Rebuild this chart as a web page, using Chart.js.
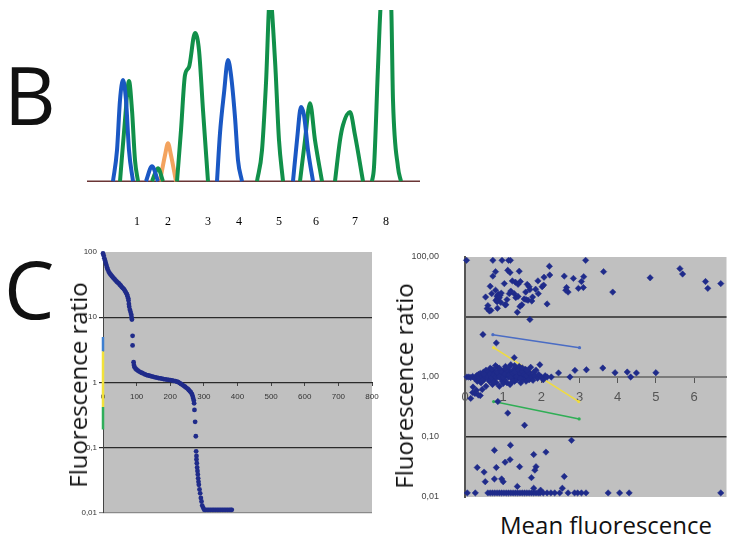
<!DOCTYPE html>
<html>
<head>
<meta charset="utf-8">
<script src="https://cdn.jsdelivr.net/npm/chart.js@4.4.1/dist/chart.umd.min.js"></script>
<style>
    html, body { margin: 0; padding: 0; background: #fff; overflow: hidden; }
    body { width: 731px; height: 535px; position: relative; font-family: "Open Sans", sans-serif; color: #111; }
    canvas { position: absolute; }
    .letter { position: absolute; font-size: 80px; line-height: 1; }
    #lanes { position: absolute; left: 0; top: 0; width: 731px; height: 240px; will-change: transform; background: transparent; }
    .lane { position: absolute; top: 215px; width: 20px; text-align: center; font-family: "Liberation Serif", serif; font-size: 12px; line-height: 1; color: #000; }
    .ytitle { position: absolute; font-size: 24px; line-height: 1; white-space: nowrap; transform: translate(-50%, -50%) rotate(-90deg); }
    .xtitle { position: absolute; font-size: 24px; line-height: 1; white-space: nowrap; }
</style>
</head>
<body>
<div class="letter" style="left:4px; top:54px;">B</div>
<div class="letter" style="left:4px; top:248px;">C</div>

<canvas id="graficoPicos" width="333" height="173" style="left:87px; top:10px;"></canvas>
<div id="lanes"></div>

<canvas id="graficoRanking" width="335" height="276" style="left:50px; top:244px;"></canvas>
<canvas id="graficoDispersao" width="331" height="254" style="left:400px; top:250px;"></canvas>

<div class="ytitle" style="left:78px; top:385px;">Fluorescence ratio</div>
<div class="ytitle" style="left:404px; top:386px;">Fluorescence ratio</div>
<div class="xtitle" style="left:500px; top:513px;">Mean fluorescence</div>

<script>
// ---------- B: electropherogram traces [scan, RFU], null = gap ----------
const laneLabels = ['1', '2', '3', '4', '5', '6', '7', '8'];
const laneScans = [150, 243, 363, 456, 576, 687, 804, 897];

const blueTrace = [
    [78, 0], [90, 181], [99, 474], [108, 591], [117, 474], [126, 181], [138, 0], [140, null],
    [177, 0], [195, 88], [213, 0], [215, null],
    [390, 0], [399, 281], [411, 515], [423, 708], [432, 620], [444, 374], [453, 123], [465, 0], [470, null],
    [618, 0], [630, 240], [642, 433], [651, 386], [663, 181], [678, 0]
];
const greenTrace = [
    [99, 0], [114, 357], [126, 585], [135, 415], [144, 123], [153, 0], [160, null],
    [195, 0], [213, 76], [228, 0], [240, null],
    [270, 0], [282, 298], [294, 620], [306, 667], [324, 866], [336, 766], [348, 415], [363, 0], [380, null],
    [510, 0], [525, 181], [537, 573], [549, 1080], [564, 708], [576, 240], [588, 0], [600, null],
    [639, 0], [654, 240], [669, 456], [684, 240], [705, 0], [720, null],
    [744, 0], [759, 240], [768, 328], [789, 404], [804, 269], [828, 0], [840, null],
    [855, 0], [861, 82], [873, 667], [882, 1060], [897, 1175], [912, 1060], [918, 474], [933, 82], [942, 0]
];
const orangeTrace = [
    [219, 0], [234, 152], [243, 222], [252, 152], [267, 0]
];
const baseline = [[0, 0], [999, 0]];

// ---------- C left: ranked ratios ----------
const rankIndex = [
    0, 2, 4, 6, 8, 10, 12, 14, 17, 20, 23, 26, 29, 32, 35, 38, 41, 44, 47, 50,
    53, 56, 59, 62, 65, 68, 71, 73, 75, 76, 77, 78, 80, 82, 84, 85, 86, 88, 88, 91,
    92, 94, 97, 100, 104, 108, 112, 116, 120, 125, 130, 135, 140, 145, 150, 155, 160, 165, 170, 175,
    180, 185, 190, 195, 200, 205, 210, 215, 220, 224, 228, 232, 236, 240, 244, 248, 252, 255, 258, 261,
    264, 266, 268, 270, 271, 272, 274, 276, 277, 278, 278, 279, 280, 281, 282, 283, 284, 285, 287, 289,
    291, 293, 295, 298, 301, 305, 310, 315, 320, 325, 330, 335, 340, 345, 350, 355, 360, 365, 370, 375,
    380, 383
];
const rankRatio = [
    95, 88, 80, 74, 68, 63, 58, 54, 50, 47, 45, 43, 41, 39.5, 38, 36.5, 35, 34, 33, 31.5,
    30.5, 29, 28, 27, 25.5, 24, 22.5, 21, 19.5, 18, 16, 14.5, 13, 12, 11, 10, 9.2, 5.2, 3.7, 2.05,
    1.85, 1.72, 1.63, 1.57, 1.52, 1.47, 1.43, 1.40, 1.37, 1.33, 1.30, 1.28, 1.26, 1.24, 1.22, 1.20, 1.19, 1.17, 1.16, 1.15,
    1.13, 1.12, 1.11, 1.10, 1.09, 1.08, 1.06, 1.05, 1.03, 1.01, 0.98, 0.95, 0.92, 0.89, 0.86, 0.83, 0.80, 0.77, 0.74, 0.71,
    0.67, 0.63, 0.58, 0.53, 0.48, 0.38, 0.25, 0.15, 0.088, 0.075, 0.066, 0.058, 0.05, 0.044, 0.039, 0.034, 0.030, 0.027, 0.023, 0.020,
    0.017, 0.015, 0.013, 0.012, 0.0112, 0.0112, 0.0112, 0.0112, 0.0112, 0.0112, 0.0112, 0.0112, 0.0112, 0.0112, 0.0112, 0.0112, 0.0112, 0.0112, 0.0112, 0.0112,
    0.0112, 0.0112
];
const rankTickValues = [0, 100, 200, 300, 400, 500, 600, 700, 800];
const rankRangeBlue = [5, 3];
const rankRangeYellow = [3, 0.42];
const rankRangeGreen = [0.42, 0.19];

// ---------- C right: ratio vs mean fluorescence ----------
const upperPoints = [
    [0.04, 88], [0.73, 88], [0.97, 88], [1.14, 88], [1.19, 88], [3.16, 88],
    [2.21, 70], [2.22, 50], [1.12, 60], [1.18, 55], [1.42, 58], [0.80, 57], [0.73, 48], [0.66, 32.5], [0.54, 21.5], [0.70, 24.5], [0.80, 28], [0.86, 23],
    [0.84, 22], [0.88, 24], [0.92, 23], [0.86, 20], [0.81, 19], [0.90, 21], [0.95, 25], [0.84, 18],
    [1.03, 36], [1.24, 40], [1.32, 38], [1.39, 35], [1.45, 39], [1.29, 24.5], [1.16, 24.5], [1.20, 27], [1.33, 21], [1.39, 22],
    [1.63, 35], [1.68, 32], [1.70, 28.6], [1.59, 26], [1.85, 29], [1.91, 40], [2.02, 32], [2.07, 46], [2.06, 34], [1.92, 24.5],
    [1.77, 21.5], [1.55, 20], [1.60, 19.5], [1.65, 19], [1.75, 18.5], [1.10, 19.5], [1.05, 16], [0.94, 17.5], [1.07, 16], [1.44, 15],
    [1.49, 16], [0.60, 15.5], [0.58, 13.8], [0.64, 12.6], [0.68, 12.9], [0.85, 14], [1.37, 12], [2.15, 16.5], [1.70, 9.1],
    [2.60, 48], [2.66, 31], [2.70, 26], [2.64, 28], [2.84, 44], [2.97, 30], [3.10, 31], [3.11, 47], [3.05, 39], [3.63, 57],
    [3.87, 26], [4.85, 45], [5.63, 64], [5.70, 52], [6.30, 39], [6.36, 30], [6.70, 36]
];
const middlePoints = [
    [0.47, 5.1], [0.82, 3.7], [1.29, 2.1], [2.45, 1.17], [2.88, 1.29], [3.18, 1.32], [3.61, 1.41], [3.93, 1.18], [4.25, 1.21],
    [4.34, 1.0], [4.49, 1.17], [5.0, 1.18], [2.26, 1.0], [2.75, 1.0], [0.15, 0.44], [0.26, 0.53], [0.40, 0.49], [0.21, 0.68],
    [0.86, 0.39], [1.12, 0.25], [1.56, 0.157],
    [0.05, 1.0], [0.10, 1.0], [0.15, 0.98], [0.20, 1.02], [0.25, 0.95], [0.30, 1.05], [0.32, 0.85], [0.35, 1.1], [0.38, 0.92],
    [0.40, 1.15], [0.42, 0.8], [0.45, 1.0], [0.48, 1.2], [0.50, 0.9], [0.52, 1.05], [0.55, 0.7], [0.55, 1.3], [0.58, 1.1],
    [0.60, 0.95], [0.62, 1.25], [0.64, 0.85], [0.66, 1.4], [0.68, 1.0], [0.70, 1.15], [0.72, 0.75], [0.74, 1.3], [0.76, 0.9],
    [0.78, 1.05], [0.80, 1.2], [0.82, 0.8], [0.84, 1.45], [0.86, 1.0], [0.88, 1.1], [0.90, 0.7], [0.92, 1.3], [0.94, 0.95],
    [0.96, 1.15], [0.98, 0.85], [1.00, 1.25], [1.02, 1.05], [1.04, 0.9], [1.06, 1.5], [1.08, 1.1], [1.10, 0.8], [1.12, 1.35],
    [1.14, 1.0], [1.16, 1.2], [1.18, 0.75], [1.20, 1.6], [1.22, 1.1], [1.24, 0.95], [1.26, 1.3], [1.28, 1.05], [1.30, 0.85],
    [1.32, 1.4], [1.34, 1.15], [1.36, 0.9], [1.38, 1.25], [1.40, 1.0], [1.42, 1.5], [1.44, 1.1], [1.46, 0.8], [1.48, 1.3],
    [1.50, 1.05], [1.52, 0.92], [1.54, 1.2], [1.56, 1.0], [1.58, 1.35], [1.60, 0.85], [1.62, 1.15], [1.64, 1.0], [1.66, 1.25],
    [1.68, 0.9], [1.70, 1.1], [1.72, 1.45], [1.75, 1.0], [1.78, 0.88], [1.80, 1.2], [1.83, 1.05], [1.86, 1.3], [1.90, 0.95],
    [1.93, 1.1], [1.96, 1.6], [2.00, 1.0], [2.05, 0.9], [2.10, 1.05], [2.15, 1.0],
    [0.60, 1.05], [0.65, 1.12], [0.70, 0.98], [0.75, 1.08], [0.80, 1.0], [0.85, 1.18], [0.90, 1.02], [0.95, 1.22], [1.00, 1.0],
    [1.05, 1.12], [1.10, 1.28], [1.15, 1.08], [1.20, 0.98], [1.25, 1.15], [1.30, 1.2], [1.35, 1.02], [1.40, 1.3], [1.45, 1.15],
    [1.50, 1.25], [1.55, 1.1], [1.60, 1.05], [1.65, 1.2], [0.70, 1.35], [0.90, 1.4], [1.05, 1.38], [1.30, 1.55], [0.80, 1.55],
    [1.15, 1.45], [1.50, 1.42], [1.62, 1.3], [0.50, 1.12], [0.45, 0.88], [0.75, 0.82], [1.00, 0.78], [1.25, 0.85], [1.45, 0.95],
    [0.30, 0.6], [0.20, 0.55], [0.35, 0.5], [0.45, 0.62]
];
const lowerPoints = [
    [2.79, 0.088], [0.77, 0.06], [1.19, 0.073], [2.12, 0.056], [1.80, 0.051], [0.32, 0.031], [0.50, 0.026], [0.82, 0.031],
    [1.05, 0.038], [1.18, 0.042], [1.43, 0.032], [1.86, 0.032], [1.83, 0.028], [0.53, 0.018], [0.77, 0.02], [0.96, 0.02],
    [1.00, 0.018], [1.74, 0.021], [2.60, 0.022], [1.37, 0.015], [1.80, 0.014], [2.55, 0.014], [1.98, 0.013]
];
const floorPoints = [
    [0.06, 0.0117], [0.27, 0.0117], [0.60, 0.0117], [0.66, 0.0117], [0.72, 0.0117], [0.78, 0.0117], [0.84, 0.0117], [0.90, 0.0117],
    [0.96, 0.0117], [1.02, 0.0117], [1.08, 0.0117], [1.14, 0.0117], [1.20, 0.0117], [1.26, 0.0117], [1.32, 0.0117], [1.38, 0.0117],
    [1.44, 0.0117], [1.50, 0.0117], [1.56, 0.0117], [1.62, 0.0117], [1.68, 0.0117], [1.74, 0.0117], [1.80, 0.0117], [1.86, 0.0117],
    [1.92, 0.0117], [1.97, 0.0117], [2.05, 0.0117], [2.15, 0.0117], [2.25, 0.0117], [2.35, 0.0117], [2.48, 0.0117], [2.70, 0.0117],
    [2.87, 0.0117], [2.95, 0.0117], [3.05, 0.0117], [3.17, 0.0117], [3.75, 0.0117], [4.05, 0.0117], [4.30, 0.0117], [6.70, 0.0117]
];
const lineBlue = [[0.73, 5.07], [3.0, 3.08]];
const lineYellow = [[0.75, 3.08], [2.98, 0.39]];
const lineGreen = [[0.75, 0.39], [2.99, 0.2]];
const meanTickValues = [0, 1, 2, 3, 4, 5, 6];

const decades = [0.01, 0.1, 1, 10, 100];
const rankYLabels = { 0.01: '0,01', 0.1: '0,1', 1: '1', 10: '10', 100: '100' };
const meanYLabels = { 0.01: '0,01', 0.1: '0,10', 1: '1,00', 10: '0,00', 100: '100,00' };

const NAVY = '#1f2b8a';

// fundo cinza da área do gráfico
const plotBg = {
    id: 'plotBg',
    beforeDraw(chart, args, opts) {
        if (!opts.color) return;
        const { ctx, chartArea: a } = chart;
        ctx.save();
        ctx.fillStyle = opts.color;
        ctx.fillRect(a.left, a.top, a.width, a.height);
        ctx.restore();
    }
};

Chart.defaults.font.family = '"Liberation Sans", Arial, sans-serif';
Chart.defaults.animation = false;

// =============== B ===============
document.getElementById('lanes').innerHTML = laneLabels.map((lbl, i) =>
    `<div class="lane" style="left:${Math.round(87 + laneScans[i] / 3) - 10}px">${lbl}</div>`).join('');

function trace(data, color) {
    return {
        data: data,
        borderColor: color,
        borderWidth: 4,
        pointRadius: 0,
        cubicInterpolationMode: 'monotone',
        spanGaps: false
    };
}

new Chart(document.getElementById('graficoPicos'), {
    type: 'line',
    data: {
        datasets: [
            trace(blueTrace, '#1a58c4'),
            trace(greenTrace, '#11904a'),
            trace(orangeTrace, '#f3a35e'),
            { data: baseline, borderColor: '#6a3535', borderWidth: 1.5, pointRadius: 0 }
        ]
    },
    options: {
        responsive: false,
        layout: { padding: 0 },
        plugins: { legend: { display: false }, tooltip: { enabled: false } },
        scales: {
            x: { type: 'linear', display: false, min: 0, max: 999 },
            y: { display: false, min: -10, max: 1000 }
        }
    }
});

// =============== C esquerda ===============
const rankPoints = rankIndex.map((x, i) => ({ x: x, y: rankRatio[i] }));

function rangeSeg(vals, color) {
    return {
        data: vals.map(v => ({ x: 0, y: v })),
        showLine: true,
        borderColor: color,
        borderWidth: 2.5,
        pointRadius: 0,
        clip: false
    };
}

new Chart(document.getElementById('graficoRanking'), {
    type: 'scatter',
    data: {
        datasets: [
            { data: rankPoints, pointRadius: 2.4, pointBackgroundColor: NAVY, pointBorderWidth: 0, clip: 4 },
            rangeSeg(rankRangeBlue, '#3d7fd0'),
            rangeSeg(rankRangeYellow, '#f2e23a'),
            rangeSeg(rankRangeGreen, '#2fae5a')
        ]
    },
    options: {
        responsive: false,
        layout: { padding: { top: 8, bottom: 7, right: 13, left: 0 } },
        plugins: { legend: { display: false }, tooltip: { enabled: false }, plotBg: { color: '#c0c0c0' } },
        scales: {
            x: {
                type: 'linear', min: 0, max: 800,
                position: { y: 1 },
                afterBuildTicks: s => { s.ticks = rankTickValues.map(v => ({ value: v })); },
                grid: { drawOnChartArea: false, drawTicks: true, tickLength: 3, color: '#444' },
                border: { display: true, color: '#2a2a2a', width: 1 },
                ticks: { font: { size: 8 }, color: '#333', padding: 6, maxRotation: 0 }
            },
            y: {
                type: 'logarithmic', min: 0.01, max: 100,
                afterBuildTicks: s => { s.ticks = decades.map(v => ({ value: v })); },
                afterFit: s => { s.width = 53; },
                grid: {
                    color: c => (c.tick && c.tick.value === 100) ? 'rgba(0,0,0,0)' : (c.tick && c.tick.value === 0.01 ? '#8a8a8a' : '#2a2a2a'),
                    lineWidth: 1.2, tickLength: 4
                },
                border: { display: true, color: '#444', width: 1 },
                ticks: { font: { size: 8 }, color: '#333', padding: 2, callback: v => rankYLabels[v] || '' }
            }
        }
    },
    plugins: [plotBg]
});

// =============== C direita ===============
function toXY(pts) { return pts.map(p => ({ x: p[0], y: p[1] })); }

function rangeLine(pts, color) {
    return {
        data: toXY(pts),
        showLine: true,
        borderColor: color,
        borderWidth: 1.5,
        pointRadius: 1.6,
        pointBackgroundColor: color,
        pointBorderWidth: 0
    };
}

const diamond = { pointStyle: 'rectRot', pointRadius: 3.2, pointBackgroundColor: NAVY, pointBorderColor: NAVY, pointBorderWidth: 0.5, clip: 4 };

new Chart(document.getElementById('graficoDispersao'), {
    type: 'scatter',
    data: {
        datasets: [
            Object.assign({ data: toXY(upperPoints) }, diamond),
            Object.assign({ data: toXY(middlePoints) }, diamond),
            Object.assign({ data: toXY(lowerPoints) }, diamond),
            Object.assign({ data: toXY(floorPoints) }, diamond),
            rangeLine(lineBlue, '#4a6cc4'),
            rangeLine(lineYellow, '#f0dc3c'),
            rangeLine(lineGreen, '#2fae55')
        ]
    },
    options: {
        responsive: false,
        layout: { padding: { top: 7, bottom: 7, right: 0, left: 0 } },
        plugins: { legend: { display: false }, tooltip: { enabled: false }, plotBg: { color: '#c0c0c0' } },
        scales: {
            x: {
                type: 'linear', min: 0, max: 6.85,
                position: { y: 1 },
                afterBuildTicks: s => { s.ticks = meanTickValues.map(v => ({ value: v })); },
                grid: { drawOnChartArea: false, drawTicks: true, tickLength: 5, color: '#555' },
                border: { display: true, color: '#7a7a7a', width: 2 },
                ticks: { font: { size: 13 }, color: '#555', padding: 8, maxRotation: 0 }
            },
            y: {
                type: 'logarithmic', min: 0.01, max: 100,
                afterBuildTicks: s => { s.ticks = decades.map(v => ({ value: v })); },
                // largura fixa e sem folga vertical extra vinda do padding dos rótulos
                afterFit: s => { s.width = 65; s.paddingTop = 0; s.paddingBottom = 0; },
                grid: {
                    color: c => {
                        const v = c.tick && c.tick.value;
                        if (v === 10) return '#505050';
                        if (v === 1) return '#7a7a7a';
                        if (v === 0.1) return '#2e2e2e';
                        return 'rgba(0,0,0,0)';
                    },
                    lineWidth: c => (c.tick && c.tick.value === 0.1) ? 1.5 : 2,
                    drawTicks: false
                },
                border: { display: true, color: '#555', width: 2 },
                ticks: { font: { size: 9 }, color: '#444', padding: 26, callback: v => meanYLabels[v] || '' }
            }
        }
    },
    plugins: [plotBg]
});
</script>
</body>
</html>
